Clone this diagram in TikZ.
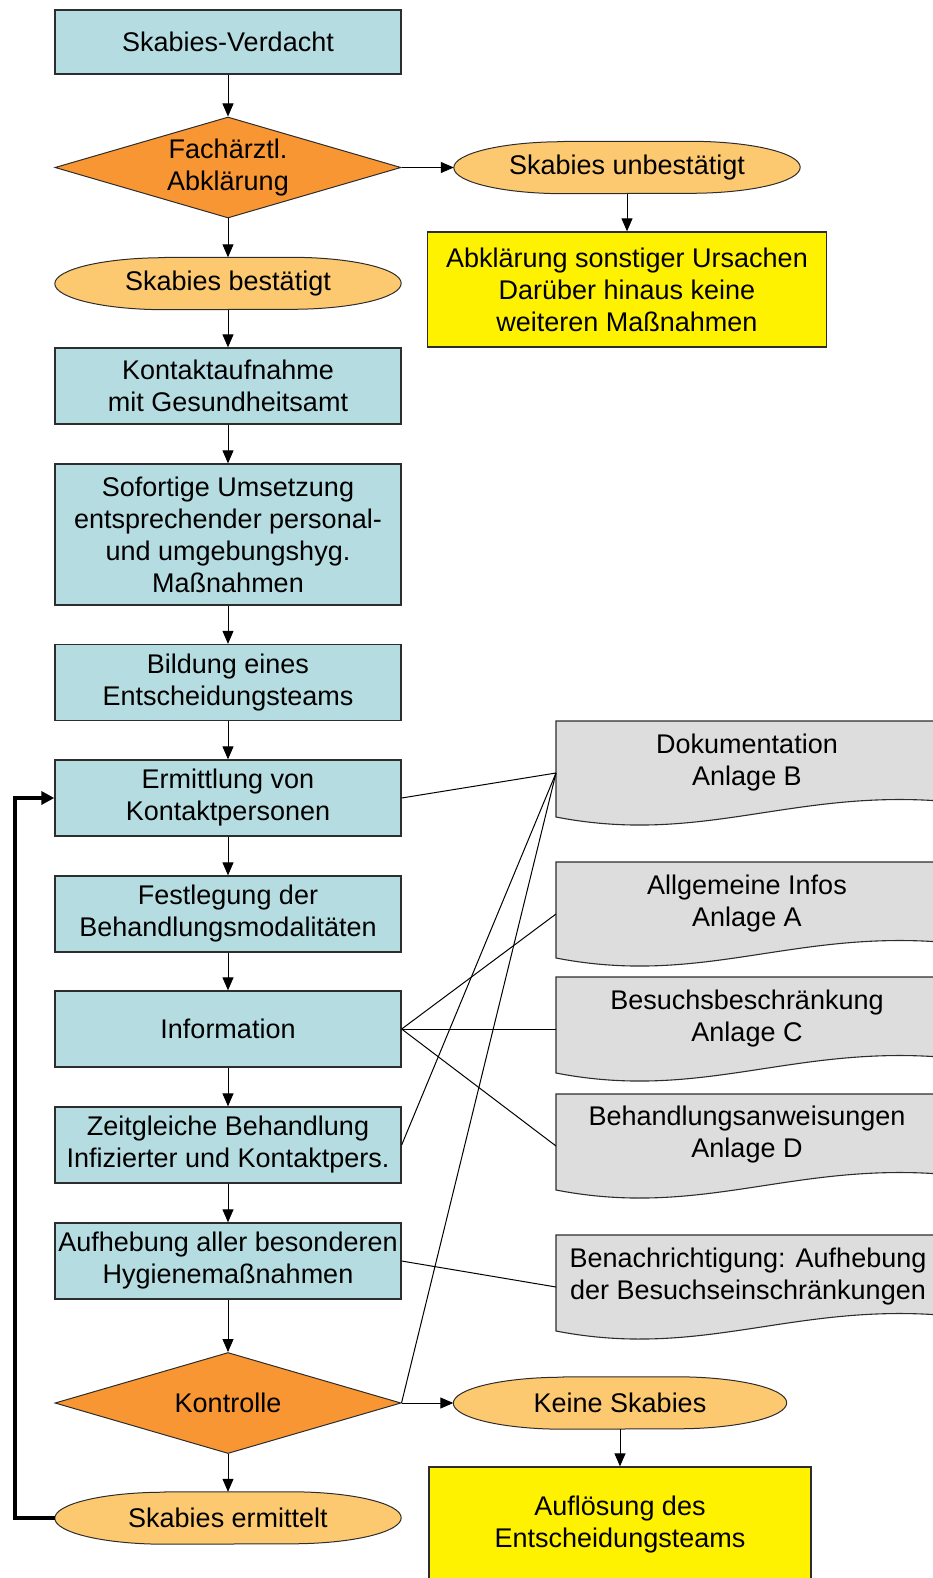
\documentclass[tikz,border=0pt]{standalone}
\usepackage{fontspec}
\setmainfont{Liberation Sans}
\usetikzlibrary{shapes.geometric,arrows.meta,backgrounds}

\definecolor{boxblue}{RGB}{181,221,225}
\definecolor{diaorange}{RGB}{248,150,52}
\definecolor{ovalorange}{RGB}{253,201,112}
\definecolor{docgray}{RGB}{221,221,221}
\definecolor{linegray}{RGB}{45,45,45}

\begin{document}
\begin{tikzpicture}[x=1pt,y=-1pt,
    every node/.style={font=\fontsize{27pt}{32pt}\selectfont, align=center, inner sep=0pt},
    stepbox/.style={draw=linegray, line width=1.3pt, fill=boxblue, minimum width=346pt, minimum height=76pt},
    decision/.style={diamond, aspect=3.43, draw=linegray, line width=1pt, fill=diaorange, minimum width=346pt, minimum height=101pt},
    outcome/.style={minimum width=346pt, minimum height=52pt},
    ovalline/.style={draw=linegray, line width=1pt, fill=ovalorange},
    notebox/.style={draw=linegray, line width=1.3pt, fill=yellow, minimum height=115pt},
    docshape/.style={draw=linegray, line width=1.1pt, fill=docgray},
    flow/.style={-{Triangle[length=13pt,width=11pt]}, line width=1pt},
    link/.style={line width=1pt},
    loopback/.style={-{Triangle[length=13pt,width=13pt]}, line width=4pt}]

    % Fix the size of the picture
    \useasboundingbox (0,0) rectangle (933,1578);
    \clip (0,0) rectangle (933,1578);

    % Left column of steps
    \node[stepbox, minimum height=64pt] (verdacht) at (228,42) {Skabies-Verdacht};
    \node[decision] (facharzt) at (228,167.5) {Fachärztl.\\Abklärung};
    \node[outcome] (bestaetigt) at (228,283.5) {Skabies bestätigt};
    \node[stepbox] (kontakt) at (228,386) {Kontaktaufnahme\\mit Gesundheitsamt};
    \node[stepbox, minimum height=141pt] (sofort) at (228,534.5) {Sofortige Umsetzung\\entsprechender personal-\\und umgebungshyg.\\Maßnahmen};
    \node[stepbox] (team) at (228,682.5) {Bildung eines\\Entscheidungsteams};
    \node[stepbox] (ermittlung) at (228,798) {Ermittlung von\\Kontaktpersonen};
    \node[stepbox] (festlegung) at (228,914) {Festlegung der\\Behandlungsmodalitäten};
    \node[stepbox] (information) at (228,1029) {Information};
    \node[stepbox] (zeitgleich) at (228,1145) {Zeitgleiche Behandlung\\Infizierter und Kontaktpers.};
    \node[stepbox] (aufhebung) at (228,1261) {Aufhebung aller besonderen\\Hygienemaßnahmen};
    \node[decision] (kontrolle) at (228,1403) {Kontrolle};
    \node[outcome] (ermittelt) at (228,1518) {Skabies ermittelt};

    % Right hand outcomes
    \node[outcome] (unbestaetigt) at (627,167.5) {Skabies unbestätigt};
    \node[notebox, minimum width=399pt] (ursachen) at (627,289.5) {Abklärung sonstiger Ursachen\\Darüber hinaus keine\\weiteren Maßnahmen};
    \node[outcome, minimum width=333pt] (keine) at (620,1403) {Keine Skabies};
    \node[notebox, minimum width=382pt] (aufloesung) at (620,1524.5) {Auflösung des\\Entscheidungsteams};

    % Oval outlines behind the outcome texts
    \begin{scope}[on background layer]
        \foreach \n in {bestaetigt, ermittelt, unbestaetigt, keine} {
            \filldraw[ovalline] ([xshift=110pt]\n.north west) -- ([xshift=-110pt]\n.north east)
                arc[start angle=90, end angle=-90, x radius=110pt, y radius=26pt]
                -- ([xshift=110pt]\n.south west)
                arc[start angle=270, end angle=90, x radius=110pt, y radius=26pt] -- cycle;
        }
    \end{scope}

    % Document shapes with wavy bottom
    \foreach \top/\name in {721/dok, 862/infos, 977/besuch, 1094/anweisung, 1235/nachricht} {
        \filldraw[docshape] (556,\top) -- (940,\top) -- (940,\top+80)
            .. controls (790,\top+69) and (700,\top+124) .. (556,\top+96) -- cycle;
        \coordinate (\name) at (556,\top+52);
    }
    \node (doktext) at (747,763) {Dokumentation\\Anlage B};
    \node (infostext) at (747,904) {Allgemeine Infos\\Anlage A};
    \node (besuchtext) at (747,1019) {Besuchsbeschränkung\\Anlage C};
    \node (anweisungtext) at (747,1135) {Behandlungsanweisungen\\Anlage D};
    \node (nachrichttext) at (748,1277) {Benachrichtigung: Aufhebung\\der Besuchseinschränkungen};

    % Arrows of the main flow
    \draw[flow] (verdacht) -- (facharzt);
    \draw[flow] (facharzt) -- (bestaetigt);
    \draw[flow] (bestaetigt) -- (kontakt);
    \draw[flow] (kontakt) -- (sofort);
    \draw[flow] (sofort) -- (team);
    \draw[flow] (team) -- (ermittlung);
    \draw[flow] (ermittlung) -- (festlegung);
    \draw[flow] (festlegung) -- (information);
    \draw[flow] (information) -- (zeitgleich);
    \draw[flow] (zeitgleich) -- (aufhebung);
    \draw[flow] (aufhebung) -- (kontrolle);
    \draw[flow] (kontrolle) -- (ermittelt);
    \draw[flow] (facharzt) -- (unbestaetigt);
    \draw[flow] (unbestaetigt) -- (ursachen);
    \draw[flow] (kontrolle) -- (keine);
    \draw[flow] (keine) -- (aufloesung);

    % Lines to the documents
    \draw[link] (ermittlung.east) -- (dok);
    \draw[link] (zeitgleich.east) -- (dok);
    \draw[link] (kontrolle.east) -- (dok);
    \draw[link] (information.east) -- (infos);
    \draw[link] (information.east) -- (besuch);
    \draw[link] (information.east) -- (anweisung);
    \draw[link] (aufhebung.east) -- (nachricht);

    % Thick loop back to Ermittlung
    \draw[loopback] (ermittelt.west) -- ++(-40,0) |- (ermittlung.west);

\end{tikzpicture}
\end{document}
